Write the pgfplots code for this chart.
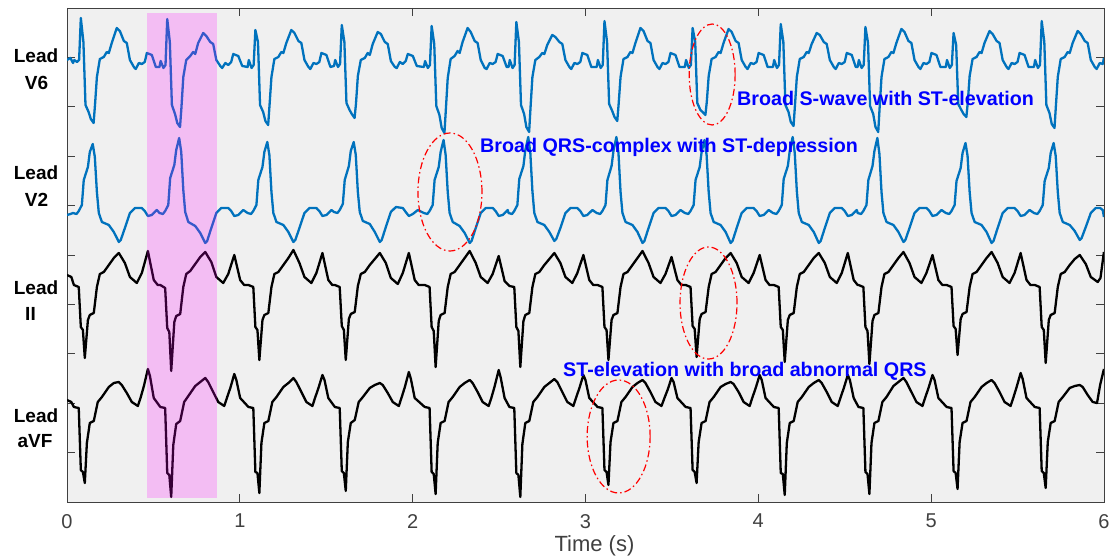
\documentclass[border=0pt]{standalone}
\usepackage{fontspec}
\setmainfont{Liberation Sans}
\usepackage{pgfplots}
\pgfplotsset{compat=1.18}
\definecolor{mblue}{rgb}{0,0.447,0.741}
\definecolor{axgray}{rgb}{0.25,0.25,0.25}
\definecolor{hl}{rgb}{1,0,1}
\definecolor{annblue}{rgb}{0,0,1}
\definecolor{annred}{rgb}{1,0,0}
\begin{document}
\begin{tikzpicture}
\useasboundingbox (0,0) rectangle (1112pt,556pt);
\begin{axis}[
  at={(67pt,54pt)}, anchor=south west,
  width=1037pt, height=494pt, scale only axis,
  xmin=0, xmax=6, ymin=8, ymax=502, y dir=reverse,
  xtick={0,1,2,3,4,5,6},
  ytick={57.4,106.8,156.2,205.6,255,304.4,353.8,403.2,452.6},
  yticklabels={},
  tick align=inside, xtick pos=both, ytick pos=both,
  major tick length=8pt,
  axis background/.style={fill=black!6},
  axis line style={axgray, line width=0.8pt},
  tick style={axgray, line width=0.8pt},
  xticklabel style={font=\fontsize{20}{22}\selectfont, text=axgray, yshift=-11pt, inner sep=1pt},
  /pgf/number format/assume math mode=true,
  xlabel={Time (s)},
  xlabel style={font=\fontsize{22}{24}\selectfont, text=axgray, inner sep=0pt, at={(axis description cs:0.5,0)}, anchor=center, yshift=-44pt, xshift=9pt},
]
% Lead V6
\addplot[mblue, line width=2.3pt, line join=round] coordinates {
(0,60) (0.020,58)
(0.035,63) (0.042,60) (0.058,62) (0.070,60) (0.080,18) (0.095,42) (0.107,105) (0.125,112) (0.138,119) (0.154,123) (0.162,105) (0.173,77) (0.190,59) (0.213,57) (0.230,52) (0.242,53) (0.259,43) (0.288,28) (0.306,31) (0.329,41) (0.346,43) (0.364,60) (0.387,67) (0.398,69) (0.416,63) (0.433,64) (0.450,62) (0.462,53) (0.491,55) (0.514,67)
(0.535,67) (0.542,61) (0.558,68) (0.570,65) (0.580,19) (0.595,42) (0.607,105) (0.625,114) (0.638,123) (0.654,127) (0.662,108) (0.673,77) (0.690,60) (0.713,56) (0.730,52) (0.742,54) (0.759,43) (0.788,33) (0.806,36) (0.829,42) (0.846,44) (0.864,60) (0.887,66) (0.898,68) (0.916,63) (0.933,65) (0.950,62) (0.962,54) (0.991,56) (1.014,66)
(1.045,67) (1.052,60) (1.068,68) (1.080,65) (1.090,30) (1.105,42) (1.117,105) (1.135,112) (1.148,121) (1.164,125) (1.172,105) (1.183,77) (1.200,59) (1.223,57) (1.240,52) (1.252,53) (1.269,43) (1.298,30) (1.316,33) (1.339,41) (1.356,43) (1.374,60) (1.397,67) (1.408,69) (1.426,63) (1.443,64) (1.460,62) (1.472,53) (1.501,55) (1.524,67)
(1.545,66) (1.552,60) (1.568,67) (1.580,64) (1.590,25) (1.605,42) (1.617,103) (1.635,110) (1.648,114) (1.664,118) (1.672,104) (1.683,76) (1.700,60) (1.723,58) (1.740,53) (1.752,55) (1.769,44) (1.798,32) (1.816,34) (1.839,42) (1.856,44) (1.874,61) (1.897,67) (1.908,68) (1.926,62) (1.943,64) (1.960,61) (1.972,54) (2.001,56) (2.024,66)
(2.065,67) (2.072,61) (2.088,68) (2.100,65) (2.110,26) (2.125,44) (2.137,106) (2.155,115) (2.168,128) (2.184,133) (2.192,110) (2.203,78) (2.220,59) (2.243,56) (2.260,51) (2.272,53) (2.289,42) (2.318,28) (2.336,32) (2.359,41) (2.376,43) (2.394,60) (2.417,68) (2.428,69) (2.446,63) (2.463,64) (2.480,62) (2.492,54) (2.521,56) (2.544,67)
(2.555,67) (2.562,60) (2.578,68) (2.590,65) (2.600,22) (2.615,42) (2.627,105) (2.645,114) (2.658,127) (2.674,132) (2.682,108) (2.693,77) (2.710,60) (2.733,57) (2.750,53) (2.762,54) (2.779,45) (2.808,35) (2.826,37) (2.849,42) (2.866,44) (2.884,60) (2.907,67) (2.918,69) (2.936,63) (2.953,64) (2.970,62) (2.982,53) (3.011,55) (3.034,67)
(3.065,67) (3.072,60) (3.088,68) (3.100,65) (3.110,21) (3.125,42) (3.137,104) (3.155,111) (3.168,117) (3.184,121) (3.192,104) (3.203,77) (3.220,59) (3.243,57) (3.260,52) (3.272,53) (3.289,43) (3.318,28) (3.336,31) (3.359,41) (3.376,43) (3.394,60) (3.417,67) (3.428,69) (3.446,63) (3.463,64) (3.480,62) (3.492,53) (3.521,55) (3.544,67)
(3.575,67) (3.582,60) (3.598,68) (3.610,65) (3.620,28) (3.635,42) (3.647,103) (3.665,110) (3.678,112) (3.694,115) (3.702,102) (3.713,76) (3.730,59) (3.753,57) (3.770,52) (3.782,53) (3.799,43) (3.828,29) (3.846,32) (3.869,41) (3.886,43) (3.904,60) (3.927,67) (3.938,69) (3.956,63) (3.973,64) (3.990,62) (4.002,53) (4.031,55) (4.054,67)
(4.085,67) (4.092,60) (4.108,68) (4.120,65) (4.130,24) (4.145,42) (4.157,105) (4.175,112) (4.188,122) (4.204,126) (4.212,106) (4.223,77) (4.240,59) (4.263,57) (4.280,52) (4.292,53) (4.309,44) (4.338,33) (4.356,35) (4.379,42) (4.396,44) (4.414,60) (4.437,67) (4.448,69) (4.466,63) (4.483,64) (4.500,62) (4.512,53) (4.541,55) (4.564,67)
(4.575,67) (4.582,60) (4.598,68) (4.610,65) (4.620,27) (4.635,43) (4.647,106) (4.665,114) (4.678,127) (4.694,132) (4.702,108) (4.713,77) (4.730,59) (4.753,57) (4.770,52) (4.782,53) (4.799,43) (4.828,29) (4.846,32) (4.869,41) (4.886,43) (4.904,60) (4.927,67) (4.938,69) (4.956,63) (4.973,64) (4.990,62) (5.002,53) (5.031,55) (5.054,67)
(5.085,67) (5.092,60) (5.108,68) (5.120,65) (5.130,33) (5.145,45) (5.157,104) (5.175,110) (5.188,114) (5.204,117) (5.212,103) (5.223,76) (5.240,59) (5.263,57) (5.280,52) (5.292,53) (5.309,43) (5.338,31) (5.356,34) (5.379,41) (5.396,43) (5.414,60) (5.437,67) (5.448,69) (5.466,63) (5.483,64) (5.500,62) (5.512,53) (5.541,55) (5.564,67)
(5.595,67) (5.602,60) (5.618,68) (5.630,65) (5.640,21) (5.655,42) (5.667,105) (5.685,113) (5.698,124) (5.714,128) (5.722,106) (5.733,77) (5.750,59) (5.773,57) (5.790,52) (5.802,53) (5.819,43) (5.848,31) (5.866,34) (5.889,41) (5.906,43) (5.924,60) (5.947,67) (5.958,69) (5.976,63) (5.993,64) (6.000,58)
};
% Lead V2
\addplot[mblue, line width=2.3pt, line join=round] coordinates {
(0,215) (0.020,214)
(0.035,213) (0.055,214) (0.068,211) (0.086,205) (0.097,180) (0.121,167) (0.132,152) (0.149,144) (0.161,157) (0.173,192) (0.184,213) (0.202,222) (0.242,225) (0.271,232) (0.300,242) (0.311,240) (0.335,228) (0.364,213) (0.393,208) (0.433,208) (0.450,211) (0.468,216) (0.491,215) (0.520,210)
(0.535,213) (0.555,214) (0.568,211) (0.586,205) (0.597,178) (0.621,165) (0.632,150) (0.649,138) (0.661,152) (0.673,190) (0.684,212) (0.702,222) (0.742,226) (0.771,233) (0.800,243) (0.811,241) (0.835,228) (0.864,213) (0.893,208) (0.933,208) (0.950,211) (0.968,216) (0.991,215) (1.020,210)
(1.045,213) (1.065,214) (1.078,211) (1.096,205) (1.107,180) (1.131,167) (1.142,152) (1.159,142) (1.171,155) (1.183,192) (1.194,213) (1.212,222) (1.252,225) (1.281,232) (1.310,242) (1.321,240) (1.345,228) (1.374,213) (1.403,208) (1.443,208) (1.460,211) (1.478,216) (1.501,215) (1.530,210)
(1.545,212) (1.565,213) (1.578,210) (1.596,204) (1.607,180) (1.631,166) (1.642,151) (1.659,142) (1.671,155) (1.683,192) (1.694,212) (1.712,221) (1.752,224) (1.781,232) (1.810,242) (1.821,240) (1.845,227) (1.874,212) (1.903,207) (1.943,208) (1.960,212) (1.978,216) (2.001,214) (2.030,210)
(2.065,213) (2.085,214) (2.098,211) (2.116,205) (2.127,180) (2.151,167) (2.162,152) (2.179,140) (2.191,155) (2.203,192) (2.214,213) (2.232,222) (2.272,226) (2.301,233) (2.330,243) (2.341,241) (2.365,228) (2.394,213) (2.423,208) (2.463,208) (2.480,211) (2.498,216) (2.521,215) (2.550,210)
(2.555,213) (2.575,214) (2.588,211) (2.606,205) (2.617,179) (2.641,166) (2.652,150) (2.669,137) (2.681,153) (2.693,191) (2.704,213) (2.722,222) (2.762,225) (2.791,232) (2.820,241) (2.831,239) (2.855,228) (2.884,213) (2.913,208) (2.953,208) (2.970,211) (2.988,216) (3.011,215) (3.040,210)
(3.065,213) (3.085,214) (3.098,211) (3.116,205) (3.127,180) (3.151,166) (3.162,151) (3.179,137) (3.191,153) (3.203,192) (3.214,213) (3.232,222) (3.272,225) (3.301,232) (3.330,243) (3.341,241) (3.365,228) (3.394,213) (3.423,208) (3.463,208) (3.480,211) (3.498,216) (3.521,215) (3.550,210)
(3.575,213) (3.595,214) (3.608,211) (3.626,205) (3.637,180) (3.661,167) (3.672,152) (3.689,140) (3.701,155) (3.713,192) (3.724,213) (3.742,222) (3.782,225) (3.811,232) (3.840,243) (3.851,241) (3.875,228) (3.904,213) (3.933,208) (3.973,208) (3.990,211) (4.008,216) (4.031,215) (4.060,210)
(4.085,213) (4.105,214) (4.118,211) (4.136,205) (4.147,179) (4.171,166) (4.182,151) (4.199,137) (4.211,153) (4.223,191) (4.234,213) (4.252,222) (4.292,225) (4.321,232) (4.350,243) (4.361,241) (4.385,228) (4.414,213) (4.443,208) (4.483,208) (4.500,211) (4.518,216) (4.541,215) (4.570,210)
(4.575,213) (4.595,214) (4.608,211) (4.626,205) (4.637,180) (4.661,166) (4.672,151) (4.689,138) (4.701,154) (4.713,192) (4.724,213) (4.742,222) (4.782,225) (4.811,232) (4.840,242) (4.851,240) (4.875,228) (4.904,213) (4.933,208) (4.973,208) (4.990,211) (5.008,216) (5.031,215) (5.060,210)
(5.085,213) (5.105,214) (5.118,211) (5.136,205) (5.147,181) (5.171,168) (5.182,153) (5.199,143) (5.211,156) (5.223,192) (5.234,213) (5.252,222) (5.292,225) (5.321,232) (5.350,243) (5.361,241) (5.385,228) (5.414,213) (5.443,208) (5.483,208) (5.500,211) (5.518,216) (5.541,215) (5.570,210)
(5.595,213) (5.615,214) (5.628,211) (5.646,205) (5.657,181) (5.681,168) (5.692,153) (5.709,143) (5.721,156) (5.733,192) (5.744,213) (5.762,222) (5.802,225) (5.831,231) (5.860,240) (5.871,238) (5.895,227) (5.924,213) (5.953,208) (5.978,208) (5.993,210) (6.000,217)
};
% Lead II
\addplot[black, line width=2.3pt, line join=round] coordinates {
(0,275) (0.025,277)
(0.040,285) (0.068,287) (0.080,327) (0.092,330) (0.103,358) (0.121,320) (0.132,315) (0.155,313) (0.173,287) (0.190,274) (0.213,272) (0.242,265) (0.271,258) (0.300,253) (0.335,263) (0.364,277) (0.404,283) (0.433,273) (0.468,251) (0.502,280) (0.525,285)
(0.540,285) (0.568,288) (0.580,328) (0.592,332) (0.603,371) (0.621,322) (0.632,316) (0.655,314) (0.673,287) (0.690,274) (0.713,271) (0.742,264) (0.771,257) (0.800,252) (0.835,262) (0.864,277) (0.904,283) (0.933,274) (0.968,255) (1.002,280) (1.025,285)
(1.050,285) (1.078,287) (1.090,327) (1.102,330) (1.113,360) (1.131,320) (1.142,315) (1.165,313) (1.183,287) (1.200,274) (1.223,272) (1.252,265) (1.281,258) (1.310,250) (1.345,263) (1.374,277) (1.414,283) (1.443,273) (1.478,253) (1.512,280) (1.535,285)
(1.550,285) (1.578,287) (1.590,326) (1.602,330) (1.613,360) (1.631,319) (1.642,314) (1.665,312) (1.683,286) (1.700,274) (1.723,272) (1.752,265) (1.781,259) (1.810,253) (1.845,263) (1.874,278) (1.914,284) (1.943,273) (1.978,253) (2.012,280) (2.035,285)
(2.070,285) (2.098,287) (2.110,327) (2.122,331) (2.133,367) (2.151,321) (2.162,315) (2.185,313) (2.203,287) (2.220,274) (2.243,272) (2.272,265) (2.301,258) (2.330,251) (2.365,263) (2.394,277) (2.434,283) (2.463,274) (2.498,256) (2.532,281) (2.555,285)
(2.560,286) (2.588,287) (2.600,327) (2.612,331) (2.623,367) (2.641,321) (2.652,315) (2.675,313) (2.693,287) (2.710,274) (2.733,272) (2.762,265) (2.791,259) (2.820,253) (2.855,263) (2.884,277) (2.924,283) (2.953,273) (2.988,255) (3.022,280) (3.045,285)
(3.070,285) (3.098,287) (3.110,327) (3.122,330) (3.133,360) (3.151,320) (3.162,315) (3.185,313) (3.203,287) (3.220,274) (3.243,272) (3.272,265) (3.301,258) (3.330,251) (3.365,263) (3.394,277) (3.434,283) (3.463,274) (3.498,257) (3.532,280) (3.555,285)
(3.580,285) (3.608,287) (3.620,326) (3.632,329) (3.643,357) (3.661,319) (3.672,314) (3.695,312) (3.713,287) (3.730,274) (3.753,272) (3.782,265) (3.811,258) (3.840,253) (3.875,263) (3.904,277) (3.944,283) (3.973,273) (4.008,255) (4.042,280) (4.065,285)
(4.090,285) (4.118,287) (4.130,327) (4.142,330) (4.153,362) (4.171,320) (4.182,315) (4.205,313) (4.223,287) (4.240,274) (4.263,272) (4.292,265) (4.321,258) (4.350,253) (4.385,263) (4.414,277) (4.454,283) (4.483,273) (4.518,253) (4.552,280) (4.575,285)
(4.580,285) (4.608,287) (4.620,327) (4.632,331) (4.643,364) (4.661,321) (4.672,315) (4.695,313) (4.713,287) (4.730,274) (4.753,272) (4.782,265) (4.811,258) (4.840,252) (4.875,263) (4.904,277) (4.944,283) (4.973,273) (5.008,255) (5.042,280) (5.065,285)
(5.090,285) (5.118,287) (5.130,326) (5.142,329) (5.153,355) (5.171,319) (5.182,314) (5.205,312) (5.223,287) (5.240,274) (5.263,272) (5.292,265) (5.321,258) (5.350,252) (5.385,263) (5.414,277) (5.454,283) (5.483,273) (5.518,253) (5.552,280) (5.575,285)
(5.600,285) (5.628,287) (5.640,327) (5.652,330) (5.663,363) (5.681,320) (5.692,315) (5.715,313) (5.733,287) (5.750,274) (5.773,272) (5.802,265) (5.831,259) (5.860,255) (5.895,264) (5.924,277) (5.964,282) (5.980,278) (6.000,252)
};
% Lead aVF
\addplot[black, line width=2.3pt, line join=round] coordinates {
(0,400) (0.025,402)
(0.040,407) (0.068,408) (0.080,470) (0.092,472) (0.103,483) (0.115,443) (0.132,423) (0.155,421) (0.178,402) (0.202,397) (0.242,387) (0.271,383) (0.300,382) (0.317,385) (0.346,393) (0.375,402) (0.410,406) (0.427,397) (0.445,386) (0.468,369) (0.480,376) (0.502,398)
(0.540,407) (0.568,408) (0.580,473) (0.592,475) (0.603,497) (0.615,445) (0.632,424) (0.655,421) (0.678,402) (0.702,396) (0.742,386) (0.771,382) (0.800,378) (0.817,382) (0.846,392) (0.875,402) (0.910,406) (0.927,397) (0.945,388) (0.968,374) (0.980,380) (1.002,398)
(1.050,407) (1.078,408) (1.090,472) (1.102,473) (1.113,493) (1.125,443) (1.142,423) (1.165,421) (1.188,402) (1.212,397) (1.252,387) (1.281,383) (1.310,378) (1.327,382) (1.356,392) (1.385,402) (1.420,406) (1.437,397) (1.455,388) (1.478,375) (1.490,380) (1.512,398)
(1.550,407) (1.578,408) (1.590,471) (1.602,473) (1.613,491) (1.625,442) (1.642,423) (1.665,420) (1.688,402) (1.712,397) (1.752,388) (1.781,385) (1.810,383) (1.827,385) (1.856,393) (1.885,402) (1.920,406) (1.937,397) (1.955,387) (1.978,372) (1.990,379) (2.012,398)
(2.070,407) (2.098,408) (2.110,472) (2.122,474) (2.133,494) (2.145,443) (2.162,423) (2.185,421) (2.208,402) (2.232,397) (2.272,387) (2.301,383) (2.330,380) (2.347,383) (2.376,392) (2.405,402) (2.440,406) (2.457,397) (2.475,386) (2.498,370) (2.510,378) (2.532,398)
(2.560,407) (2.588,408) (2.600,473) (2.612,475) (2.623,497) (2.635,444) (2.652,423) (2.675,421) (2.698,402) (2.722,397) (2.762,387) (2.791,383) (2.820,379) (2.837,382) (2.866,392) (2.895,402) (2.930,406) (2.947,397) (2.965,388) (2.988,375) (3.000,380) (3.022,398)
(3.070,407) (3.098,408) (3.110,470) (3.122,472) (3.133,485) (3.145,442) (3.162,423) (3.185,421) (3.208,402) (3.232,397) (3.272,387) (3.301,383) (3.330,380) (3.347,383) (3.376,392) (3.405,402) (3.440,406) (3.457,398) (3.475,390) (3.498,378) (3.510,382) (3.532,398)
(3.580,407) (3.608,408) (3.620,470) (3.632,472) (3.643,483) (3.655,442) (3.672,423) (3.695,421) (3.718,402) (3.742,397) (3.782,387) (3.811,384) (3.840,382) (3.857,384) (3.886,392) (3.915,402) (3.950,406) (3.967,397) (3.985,388) (4.008,375) (4.020,380) (4.042,398)
(4.090,407) (4.118,408) (4.130,473) (4.142,474) (4.153,495) (4.165,443) (4.182,423) (4.205,421) (4.228,402) (4.252,397) (4.292,387) (4.321,383) (4.350,380) (4.367,383) (4.396,392) (4.425,402) (4.460,406) (4.477,397) (4.495,388) (4.518,375) (4.530,380) (4.552,398)
(4.580,407) (4.608,408) (4.620,472) (4.632,474) (4.643,494) (4.655,443) (4.672,423) (4.695,421) (4.718,402) (4.742,397) (4.782,386) (4.811,382) (4.840,378) (4.857,382) (4.886,392) (4.915,402) (4.950,406) (4.967,397) (4.985,388) (5.008,375) (5.020,380) (5.042,398)
(5.090,407) (5.118,408) (5.130,471) (5.142,473) (5.153,489) (5.165,442) (5.182,423) (5.205,421) (5.228,402) (5.252,397) (5.292,387) (5.321,383) (5.350,380) (5.367,383) (5.396,392) (5.425,402) (5.460,406) (5.477,397) (5.495,387) (5.518,373) (5.530,379) (5.552,398)
(5.600,407) (5.628,408) (5.640,471) (5.652,473) (5.663,488) (5.675,442) (5.692,423) (5.715,421) (5.738,402) (5.762,397) (5.802,388) (5.831,386) (5.860,385) (5.877,387) (5.906,395) (5.935,402) (5.960,403) (5.978,385) (6.000,369)
};
% highlighted beat
\fill[hl, opacity=0.21] (axis cs:0.463,13) rectangle (axis cs:0.868,498);
% ellipses
\draw[annred, line width=1.2pt, dash pattern=on 7pt off 3pt on 1.5pt off 3pt] (axis cs:3.733,74.5) ellipse [x radius=23pt, y radius=50.5pt];
\draw[annred, line width=1.2pt, dash pattern=on 7pt off 3pt on 1.5pt off 3pt] (axis cs:2.216,192) ellipse [x radius=32pt, y radius=59pt];
\draw[annred, line width=1.2pt, dash pattern=on 7pt off 3pt on 1.5pt off 3pt] (axis cs:3.712,303) ellipse [x radius=28.5pt, y radius=56pt];
\draw[annred, line width=1.2pt, dash pattern=on 7pt off 3pt on 1.5pt off 3pt] (axis cs:3.192,436.5) ellipse [x radius=31.5pt, y radius=56.5pt];
% annotations
\node[anchor=base west, inner sep=0pt, text=annblue, font=\fontsize{19.7}{22}\selectfont\bfseries] at (axis cs:3.877,106) {Broad S-wave with ST-elevation};
\node[anchor=base west, inner sep=0pt, text=annblue, font=\fontsize{19.7}{22}\selectfont\bfseries] at (axis cs:2.390,153) {Broad QRS-complex with ST-depression};
\node[anchor=base west, inner sep=0pt, text=annblue, font=\fontsize{19.7}{22}\selectfont\bfseries] at (axis cs:2.870,376) {ST-elevation with broad abnormal QRS};
\end{axis}
% lead labels
\begin{scope}[every node/.style={anchor=base, inner sep=0pt, font=\fontsize{19}{22}\selectfont\bfseries}]
\node at (36pt,493pt) {Lead};
\node at (36.5pt,466pt) {V6};
\node at (36pt,376pt) {Lead};
\node at (36.5pt,349pt) {V2};
\node at (36pt,261pt) {Lead};
\node at (30.5pt,235pt) {II};
\node at (36pt,133pt) {Lead};
\node at (35pt,108pt) {aVF};
\end{scope}
\end{tikzpicture}
\end{document}
